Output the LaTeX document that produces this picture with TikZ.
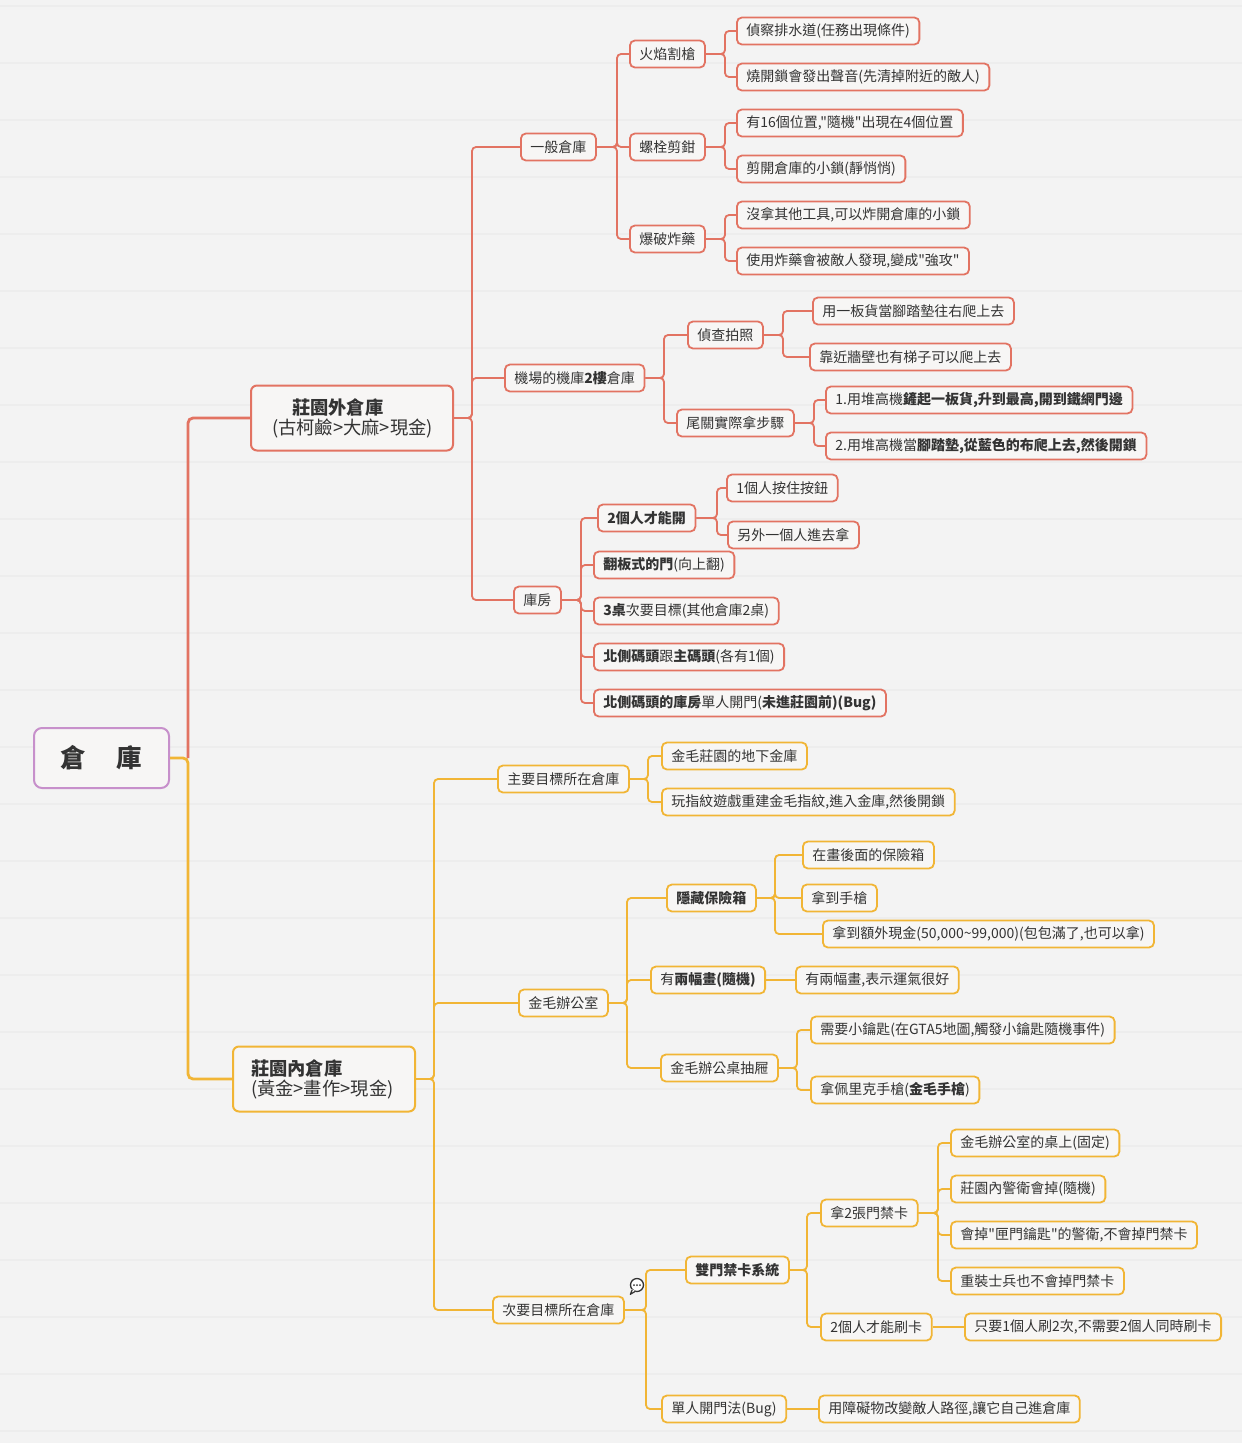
\documentclass[tikz,border=0pt]{standalone}
\usepackage{fontspec}
\setmainfont{Noto Sans CJK TC}[Ligatures=TeXOff]
\definecolor{redc}{HTML}{E27362}
\definecolor{orgc}{HTML}{F1B535}
\definecolor{rootc}{HTML}{C790CB}
\definecolor{boxfill}{HTML}{F7F6F5}
\definecolor{bgc}{HTML}{F3F3F3}
\definecolor{stripe}{HTML}{EDEDED}
\definecolor{txt}{HTML}{333333}
\newcommand\conn[4]{\foreach \c in {#4}{\draw[#1] (#2.east) -- (#2.east -| #3,0) |- (\c.west);}}
\newcommand\connone[3]{\draw[#1, sharp corners] (#2.east) -- (#3.west);}
\begin{document}
\begin{tikzpicture}[x=1pt,y=-1pt,
  box/.style={rounded corners=5pt, line width=1.8pt, fill=boxfill, inner xsep=9.5pt, inner ysep=0pt,
    minimum height=27pt, text=txt, font=\fontsize{14}{16}\selectfont, anchor=west},
  rbox/.style={box, draw=redc},
  obox/.style={box, draw=orgc},
  lone/.style={rounded corners=6pt, line width=2pt, fill=boxfill, inner xsep=0pt, inner ysep=0pt,
    minimum height=65pt, text=txt, font=\fontsize{18.3}{21}\selectfont, anchor=west, align=left},
  rl/.style={draw=redc, line width=1.8pt, rounded corners=4pt},
  ol/.style={draw=orgc, line width=1.8pt, rounded corners=4pt},
  rlw/.style={draw=redc, line width=2.8pt, rounded corners=5pt},
  olw/.style={draw=orgc, line width=2.8pt, rounded corners=5pt}
]
\useasboundingbox (0,0) rectangle (1242,1443);
\fill[bgc] (0,0) rectangle (1242,1443);
\foreach \yy in {6,63,...,1443} \draw[stripe, line width=1.2pt] (0,\yy) -- (1242,\yy);

% root
\node[draw=rootc, line width=2pt, rounded corners=8pt, fill=boxfill, minimum width=135pt, minimum height=60pt,
  anchor=west, text=txt, font=\fontsize{25.5}{28}\selectfont\bfseries] (root) at (33,758) {倉\hspace{31pt}庫};
\coordinate (rj) at (188,758);

% level 1
\node[lone, draw=redc, minimum width=202pt, text width=160pt] (outw) at (250,418)
  {\hspace*{20pt}\textbf{莊園外倉庫}\\[-1pt](古柯鹼>大麻>現金)};
\node[lone, draw=orgc, minimum width=182pt, text width=146pt] (inw) at (232,1079)
  {\textbf{莊園內倉庫}\\[-1pt](黃金>畫作>現金)};

\draw[olw] (root.east) -- (rj) |- (inw.west);
\draw[rlw] (rj) |- (outw.west);

% ===== red branch =====
\node[rbox] (gen) at (520,147) {一般倉庫};
\node[rbox] (air) at (504,378) {機場的機庫\textbf{2樓}倉庫};
\node[rbox] (kf) at (513,600) {庫房};
\conn{rl}{outw}{472}{gen,air,kf}

\node[rbox] (fire) at (629,54) {火焰割槍};
\node[rbox] (bolt) at (629,147) {螺栓剪鉗};
\node[rbox] (bomb) at (629,239) {爆破炸藥};
\conn{rl}{gen}{617}{fire,bolt,bomb}

\node[rbox] (f1) at (736,31) {偵察排水道(任務出現條件)};
\node[rbox] (f2) at (736,77) {燒開鎖會發出聲音(先清掉附近的敵人)};
\conn{rl}{fire}{725}{f1,f2}
\node[rbox] (b1) at (736,123) {有16個位置,"隨機"出現在4個位置};
\node[rbox] (b2) at (736,169) {剪開倉庫的小鎖(靜悄悄)};
\conn{rl}{bolt}{725}{b1,b2}
\node[rbox] (e1) at (736,215) {沒拿其他工具,可以炸開倉庫的小鎖};
\node[rbox] (e2) at (736,261) {使用炸藥會被敵人發現,變成"強攻"};
\conn{rl}{bomb}{725}{e1,e2}

\node[rbox] (scout) at (687,335) {偵查拍照};
\node[rbox] (final) at (676,423) {尾關實際拿步驟};
\conn{rl}{air}{664}{scout,final}
\node[rbox] (s1) at (812,311) {用一板貨當腳踏墊往右爬上去};
\node[rbox] (s2) at (809,357) {靠近牆壁也有梯子可以爬上去};
\conn{rl}{scout}{783}{s1,s2}
\node[rbox] (t1) at (825,400) {1.用堆高機\textbf{鏟起一板貨,升到最高,開到鐵網門邊}};
\node[rbox] (t2) at (825,446) {2.用堆高機當\textbf{腳踏墊,從藍色的布爬上去,然後開鎖}};
\conn{rl}{final}{814}{t1,t2}

\node[rbox] (two) at (597,518) {\textbf{2個人才能開}};
\node[rbox] (flip) at (593,565) {\textbf{翻板式的門}(向上翻)};
\node[rbox] (three) at (593,611) {\textbf{3桌}次要目標(其他倉庫2桌)};
\node[rbox] (north) at (593,657) {\textbf{北側碼頭}跟\textbf{主碼頭}(各有1個)};
\node[rbox] (nbug) at (593,703) {\textbf{北側碼頭的庫房}單人開門(\textbf{未進莊園前)(Bug)}};
\conn{rl}{kf}{581}{two,flip,three,north,nbug}
\node[rbox] (w1) at (726,488) {1個人按住按鈕};
\node[rbox] (w2) at (727,535) {另外一個人進去拿};
\conn{rl}{two}{717}{w1,w2}

% ===== orange branch =====
\node[obox] (main) at (497,779) {主要目標所在倉庫};
\node[obox] (office) at (518,1003) {金毛辦公室};
\node[obox] (sec) at (492,1310) {次要目標所在倉庫};
\conn{ol}{inw}{434}{main,office,sec}

\node[obox] (m1) at (661,756) {金毛莊園的地下金庫};
\node[obox] (m2) at (661,802) {玩指紋遊戲重建金毛指紋,進入金庫,然後開鎖};
\conn{ol}{main}{648}{m1,m2}

\node[obox] (safe) at (666,898) {\textbf{隱藏保險箱}};
\node[obox] (paint) at (650,980) {有\textbf{兩幅畫(隨機)}};
\node[obox] (drawer) at (660,1068) {金毛辦公桌抽屜};
\conn{ol}{office}{627}{safe,paint,drawer}

\node[obox] (sf1) at (802,855) {在畫後面的保險箱};
\node[obox] (sf2) at (801,898) {拿到手槍};
\node[obox] (sf3) at (822,934) {拿到額外現金(50,000\textasciitilde 99,000)(包包滿了,也可以拿)};
\conn{ol}{safe}{775}{sf1,sf2,sf3}
\node[obox] (p1) at (795,980) {有兩幅畫,表示運氣很好};
\connone{ol}{paint}{p1}
\node[obox] (d1) at (810,1030) {需要小鑰匙(在GTA5地圖,觸發小鑰匙隨機事件)};
\node[obox] (d2) at (810,1090) {拿佩里克手槍(\textbf{金毛手槍})};
\conn{ol}{drawer}{797}{d1,d2}

\node[obox] (dual) at (685,1270) {\textbf{雙門禁卡系統}};
\node[obox] (solo) at (661,1409) {單人開門法(Bug)};
\conn{ol}{sec}{646}{dual,solo}
\node[obox] (take) at (820,1213) {拿2張門禁卡};
\node[obox] (swipe) at (820,1327) {2個人才能刷卡};
\conn{ol}{dual}{807}{take,swipe}
\node[obox] (k1) at (950,1143) {金毛辦公室的桌上(固定)};
\node[obox] (k2) at (950,1189) {莊園內警衛會掉(隨機)};
\node[obox] (k3) at (950,1235) {會掉"匣門鑰匙"的警衛,不會掉門禁卡};
\node[obox] (k4) at (950,1281) {重裝士兵也不會掉門禁卡};
\conn{ol}{take}{938}{k1,k2,k3,k4}
\node[obox] (sw1) at (964,1327) {只要1個人刷2次,不需要2個人同時刷卡};
\connone{ol}{swipe}{sw1}
\node[obox] (so1) at (818,1409) {用障礙物改變敵人路徑,讓它自己進倉庫};
\connone{ol}{solo}{so1}

% comment icon
\node[circle, draw=txt, fill=white, line width=1.3pt, inner sep=0pt, minimum size=13pt] (cmt) at (637,1285) {};
\fill[white] (631.5,1289) -- (630,1294.5) -- (635.5,1291) -- cycle;
\draw[txt, line width=1.2pt, line join=round] (632.2,1289.8) -- (630.3,1294.3) -- (635.2,1291.4);
\foreach \dx in {-3,0,3} \fill[txt] (637+\dx,1285) circle (1pt);
\end{tikzpicture}
\end{document}
